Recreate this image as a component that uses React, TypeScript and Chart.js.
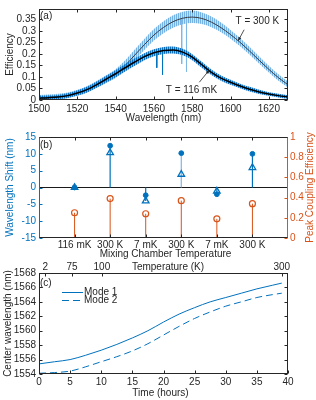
import React, { useEffect, useRef } from 'react';
import { Chart, registerables } from 'chart.js';
Chart.register(...registerables);

const FONT = "'Liberation Sans', Arial, Helvetica, sans-serif";
const AXIS = '#262626';
const BLUE = '#0072bd';
const LIGHT_BLUE = '#7db8e6';
const ORANGE = '#d95319';

// ---------- Panel (a): efficiency spectra ----------
const wavelengths = [1500, 1505, 1510, 1515, 1520, 1525, 1530, 1535, 1540, 1545, 1550, 1555, 1560, 1565, 1570, 1575, 1580, 1585, 1590, 1595, 1600, 1605, 1610, 1615, 1620, 1625, 1630];
const fit300K = [0.010, 0.012, 0.015, 0.020, 0.030, 0.045, 0.066, 0.089, 0.114, 0.150, 0.195, 0.240, 0.282, 0.315, 0.340, 0.355, 0.360, 0.354, 0.338, 0.314, 0.284, 0.250, 0.212, 0.172, 0.133, 0.097, 0.066];
const fit116mK = [0.008, 0.010, 0.013, 0.019, 0.030, 0.045, 0.066, 0.090, 0.114, 0.140, 0.165, 0.188, 0.205, 0.215, 0.217, 0.208, 0.186, 0.153, 0.120, 0.095, 0.077, 0.061, 0.047, 0.035, 0.026, 0.019, 0.013];
const meas300KHigh = [0.022, 0.024, 0.027, 0.033, 0.044, 0.060, 0.082, 0.107, 0.134, 0.172, 0.219, 0.265, 0.308, 0.342, 0.368, 0.383, 0.388, 0.380, 0.362, 0.336, 0.304, 0.269, 0.230, 0.189, 0.149, 0.112, 0.080];
const meas300KLow = [0.000, 0.001, 0.004, 0.009, 0.018, 0.032, 0.052, 0.073, 0.096, 0.130, 0.173, 0.217, 0.258, 0.290, 0.314, 0.329, 0.334, 0.330, 0.316, 0.294, 0.266, 0.233, 0.196, 0.157, 0.119, 0.084, 0.054];
const meas116mKHigh = [0.018, 0.019, 0.022, 0.029, 0.041, 0.057, 0.079, 0.104, 0.129, 0.156, 0.181, 0.203, 0.220, 0.230, 0.232, 0.222, 0.199, 0.166, 0.132, 0.106, 0.088, 0.071, 0.057, 0.044, 0.034, 0.027, 0.021];
const meas116mKLow = [0.000, 0.001, 0.004, 0.009, 0.019, 0.033, 0.053, 0.076, 0.099, 0.124, 0.149, 0.173, 0.190, 0.200, 0.202, 0.194, 0.173, 0.140, 0.108, 0.084, 0.066, 0.051, 0.037, 0.026, 0.018, 0.011, 0.005];
const spike300KWl = [1574.5, 1577];
const spike300KTop = [0.35, 0.36];
const spike300KBottom = [0.157, 0.123];
const spike116mKWl = [1561.5, 1564.5];
const spike116mKTop = [0.205, 0.21];
const spike116mKBottom = [0.14, 0.11];
const annotationsA = [
  { text: 'T = 300 K', at: [1614, 0.342], from: [1607.1, 0.305], to: [1604, 0.257] },
  { text: 'T = 116 mK', at: [1579.6, 0.041], from: [1583.7, 0.077], to: [1588.9, 0.13] },
];

// ---------- Panel (b): shifts per temperature cycle ----------
const tempCategories = ['116 mK', '300 K', '7 mK', '300 K', '7 mK', '300 K'];
const shiftDot = [0, 12.4, -2.3, 10.2, -2.0, 10.0];
const shiftTri = [0, 10.3, -4.0, 3.9, -1.1, 5.9];
const peakEff = [0.25, 0.39, 0.24, 0.37, 0.19, 0.34];
const DOT_STEM_COLORS = [BLUE, BLUE, BLUE, LIGHT_BLUE, BLUE, BLUE];

// ---------- Panel (c): centre wavelength vs time ----------
const timeHours = [0, 2.5, 5, 7.5, 10, 12.5, 15, 17.5, 20, 22.5, 25, 27.5, 30, 32.5, 35, 37.5, 39];
const mode1 = [1555.4, 1555.7, 1556.0, 1556.6, 1557.3, 1558.1, 1559.0, 1560.0, 1561.2, 1562.3, 1563.2, 1564.0, 1564.6, 1565.2, 1565.8, 1566.3, 1566.6];
const mode2 = [1554.1, 1554.2, 1554.4, 1555.0, 1555.7, 1556.4, 1557.2, 1558.2, 1559.4, 1560.6, 1561.7, 1562.6, 1563.4, 1564.0, 1564.6, 1565.0, 1565.2];
const tempTickTimes = [1.0, 5.3, 10.1, 39.0];
const tempTickLabels = ['2', '75', '100', '300'];

const pts = (xs: number[], ys: number[]) => xs.map((x, i) => ({ x, y: ys[i] }));
const fmt = (v: number) => String(Math.round(Number(v) * 1000) / 1000);

function txt(ctx: CanvasRenderingContext2D, s: string, x: number, y: number, o: any = {}) {
  ctx.save();
  ctx.translate(x, y);
  if (o.rot) ctx.rotate(o.rot);
  ctx.font = `${o.size || 10}px ${FONT}`;
  ctx.fillStyle = o.color || AXIS;
  ctx.textAlign = o.align || 'center';
  ctx.textBaseline = o.baseline || 'middle';
  ctx.fillText(s, 0, 0);
  ctx.restore();
}

function arrow(ctx: CanvasRenderingContext2D, x1: number, y1: number, x2: number, y2: number) {
  const ang = Math.atan2(y2 - y1, x2 - x1);
  ctx.save();
  ctx.strokeStyle = AXIS;
  ctx.fillStyle = AXIS;
  ctx.lineWidth = 0.8;
  ctx.beginPath();
  ctx.moveTo(x1, y1);
  ctx.lineTo(x2, y2);
  ctx.stroke();
  const h = 4;
  ctx.beginPath();
  ctx.moveTo(x2, y2);
  ctx.lineTo(x2 - h * Math.cos(ang - 0.4), y2 - h * Math.sin(ang - 0.4));
  ctx.lineTo(x2 - h * Math.cos(ang + 0.4), y2 - h * Math.sin(ang + 0.4));
  ctx.closePath();
  ctx.fill();
  ctx.restore();
}

function framePlugin(cfg: any) {
  return {
    id: 'frame',
    afterDatasetsDraw(chart: any) {
      const { ctx } = chart;
      const a = chart.chartArea;
      const L = Math.round(a.left) + 0.5, R = Math.round(a.right) - 0.5;
      const T = Math.round(a.top) + 0.5, B = Math.round(a.bottom) - 0.5;
      const len = 3;
      ctx.save();
      ctx.lineWidth = 1;
      for (const t of cfg.ticks) {
        const s = chart.scales[t.scale];
        ctx.strokeStyle = t.color || AXIS;
        for (const tk of s.ticks) {
          const p = Math.round(s.getPixelForValue(tk.value)) + 0.5;
          for (const side of t.sides) {
            ctx.beginPath();
            if (side === 'bottom') { ctx.moveTo(p, B); ctx.lineTo(p, B - len); }
            if (side === 'top') { ctx.moveTo(p, T); ctx.lineTo(p, T + len); }
            if (side === 'left') { ctx.moveTo(L, p); ctx.lineTo(L + len, p); }
            if (side === 'right') { ctx.moveTo(R, p); ctx.lineTo(R - len, p); }
            ctx.stroke();
          }
        }
      }
      const b = cfg.borders;
      const seg = (c: string, x1: number, y1: number, x2: number, y2: number) => {
        ctx.strokeStyle = c; ctx.beginPath(); ctx.moveTo(x1, y1); ctx.lineTo(x2, y2); ctx.stroke();
      };
      seg(b.top, L - 0.5, T, R + 0.5, T);
      seg(b.bottom, L - 0.5, B, R + 0.5, B);
      seg(b.left, L, T, L, B);
      seg(b.right, R, T, R, B);
      ctx.restore();
    },
  };
}

function drawPlugin(draw: (ctx: CanvasRenderingContext2D, chart: any) => void) {
  return { id: 'texts', afterDraw(chart: any) { draw(chart.ctx, chart); } };
}

function stripePattern(ctx: CanvasRenderingContext2D, c1: string, c2: string) {
  const cv = document.createElement('canvas');
  cv.width = 2; cv.height = 4;
  const g = cv.getContext('2d')!;
  g.fillStyle = c2; g.fillRect(0, 0, 2, 4);
  g.fillStyle = c1; g.fillRect(0, 0, 1, 4);
  return ctx.createPattern(cv, 'repeat');
}

const tickFont = { size: 10, family: FONT };

function baseLine(extra: any) {
  return { pointRadius: 0, borderWidth: 1, fill: false, cubicInterpolationMode: 'monotone', ...extra };
}

function spikes(xs: number[], tops: number[], bottoms: number[]) {
  return xs.flatMap((x, i) => [{ x, y: tops[i] }, { x, y: bottoms[i] }, { x, y: null }]);
}

function makeA(canvas: HTMLCanvasElement) {
  const ctx = canvas.getContext('2d')!;
  const pat300 = stripePattern(ctx, '#74b2e4', 'rgba(178,212,242,0.7)');
  const pat116 = stripePattern(ctx, '#0a6fbe', 'rgba(60,140,205,0.6)');
  return new Chart(canvas, {
    type: 'line',
    data: {
      datasets: [
        baseLine({ data: pts(wavelengths, meas300KHigh), fill: '+1', backgroundColor: pat300, borderWidth: 0, borderColor: 'rgba(0,0,0,0)', order: 10 }),
        baseLine({ data: pts(wavelengths, meas300KLow), borderWidth: 0, borderColor: 'rgba(0,0,0,0)', order: 10 }),
        { data: spikes(spike300KWl, spike300KTop, spike300KBottom), borderColor: LIGHT_BLUE, borderWidth: 1, pointRadius: 0, spanGaps: false, tension: 0, order: 9 },
        baseLine({ data: pts(wavelengths, fit300K), borderColor: '#3c3c3c', borderWidth: 1, order: 8 }),
        baseLine({ data: pts(wavelengths, meas116mKHigh), fill: '+1', backgroundColor: pat116, borderWidth: 0, borderColor: 'rgba(0,0,0,0)', order: 7 }),
        baseLine({ data: pts(wavelengths, meas116mKLow), borderWidth: 0, borderColor: 'rgba(0,0,0,0)', order: 7 }),
        { data: spikes(spike116mKWl, spike116mKTop, spike116mKBottom), borderColor: BLUE, borderWidth: 1, pointRadius: 0, spanGaps: false, tension: 0, order: 6 },
        baseLine({ data: pts(wavelengths, fit116mK), borderColor: '#000', borderWidth: 1.5, order: 5 }),
      ],
    },
    options: {
      animation: false,
      responsive: false,
      events: [],
      layout: { padding: { top: 3, right: 28, left: 0, bottom: 0 } },
      plugins: { legend: { display: false }, tooltip: { enabled: false } },
      scales: {
        x: {
          type: 'linear', min: 1500, max: 1630,
          grid: { display: false, drawTicks: false }, border: { display: false },
          ticks: { stepSize: 20, includeBounds: false, autoSkip: false, font: tickFont, color: AXIS, padding: 3, maxRotation: 0, callback: (v: any) => String(v) },
          afterFit: (s: any) => { s.height = 24; },
        },
        y: {
          type: 'linear', min: 0, max: 0.395,
          grid: { display: false, drawTicks: false }, border: { display: false },
          ticks: { stepSize: 0.05, includeBounds: false, autoSkip: false, font: tickFont, color: AXIS, padding: 3, callback: (v: any) => fmt(v) },
          afterFit: (s: any) => { s.width = 39; },
        },
      },
    } as any,
    plugins: [
      framePlugin({
        borders: { top: AXIS, bottom: AXIS, left: AXIS, right: AXIS },
        ticks: [{ scale: 'x', sides: ['bottom', 'top'] }, { scale: 'y', sides: ['left', 'right'] }],
      }),
      drawPlugin((c, chart) => {
        const a = chart.chartArea;
        const sx = chart.scales.x, sy = chart.scales.y;
        txt(c, 'Efficiency', 10, (a.top + a.bottom) / 2, { rot: -Math.PI / 2 });
        txt(c, 'Wavelength (nm)', (a.left + a.right) / 2, a.bottom + 18);
        txt(c, '(a)', a.left + 1, a.top + 7, { align: 'left' });
        for (const an of annotationsA) {
          txt(c, an.text, sx.getPixelForValue(an.at[0]), sy.getPixelForValue(an.at[1]));
          arrow(c, sx.getPixelForValue(an.from[0]), sy.getPixelForValue(an.from[1]), sx.getPixelForValue(an.to[0]), sy.getPixelForValue(an.to[1]));
        }
      }) as any,
    ],
  } as any);
}

function makeB(canvas: HTMLCanvasElement) {
  const idx = tempCategories.map((_, i) => i + 1);
  const stemTop = shiftDot.map((d, i) => (Math.abs(shiftTri[i]) > Math.abs(d) ? shiftTri[i] : d));
  const stemPts = (vals: number[], base: number) => vals.flatMap((v, i) => [{ x: i + 1, y: base }, { x: i + 1, y: v }, { x: i + 1, y: null }]);
  return new Chart(canvas, {
    type: 'scatter',
    data: {
      datasets: [
        { type: 'line', data: stemPts(peakEff, 0), yAxisID: 'y1', borderColor: ORANGE, borderWidth: 1, pointRadius: 0, spanGaps: false, tension: 0, order: 6 },
        {
          type: 'line', data: stemPts(stemTop, 0), yAxisID: 'y', borderColor: BLUE, borderWidth: 1.2, pointRadius: 0, spanGaps: false, tension: 0, order: 5,
          segment: { borderColor: (c: any) => DOT_STEM_COLORS[Math.floor(c.p0DataIndex / 3)] },
        },
        { data: pts(idx, peakEff), yAxisID: 'y1', pointStyle: 'circle', pointRadius: 3, pointBorderColor: ORANGE, pointBackgroundColor: 'rgba(255,255,255,0)', pointBorderWidth: 1.2, order: 3 },
        { data: pts(idx, shiftTri), yAxisID: 'y', pointStyle: 'triangle', pointRadius: 3.8, pointBorderColor: BLUE, pointBackgroundColor: 'rgba(255,255,255,0)', pointBorderWidth: 1.3, order: 2 },
        { data: pts(idx, shiftDot), yAxisID: 'y', pointStyle: 'circle', pointRadius: 2.4, pointBorderColor: BLUE, pointBackgroundColor: BLUE, pointBorderWidth: 1, order: 1 },
      ],
    },
    options: {
      animation: false,
      responsive: false,
      events: [],
      layout: { padding: { top: 13, right: 0, left: 0, bottom: 0 } },
      plugins: { legend: { display: false }, tooltip: { enabled: false } },
      scales: {
        x: {
          type: 'linear', min: 0, max: 7,
          grid: { display: false, drawTicks: false }, border: { display: false },
          afterBuildTicks: (s: any) => { s.ticks = idx.map((v) => ({ value: v })); },
          ticks: { font: tickFont, color: AXIS, padding: 1, maxRotation: 0, autoSkip: false, callback: (_v: any, i: number) => tempCategories[i] },
          afterFit: (s: any) => { s.height = 24; },
        },
        y: {
          type: 'linear', position: 'left', min: -15, max: 15,
          grid: { display: true, drawTicks: false, lineWidth: 1, color: (c: any) => (c.tick && c.tick.value === 0 ? '#1a1a1a' : 'rgba(0,0,0,0)') },
          border: { display: false },
          ticks: { stepSize: 5, autoSkip: false, font: tickFont, color: BLUE, padding: 3, callback: (v: any) => fmt(v) },
          afterFit: (s: any) => { s.width = 39; },
        },
        y1: {
          type: 'linear', position: 'right', min: 0, max: 1,
          grid: { display: false, drawTicks: false }, border: { display: false },
          ticks: { stepSize: 0.2, autoSkip: false, font: tickFont, color: ORANGE, padding: 2, callback: (v: any) => fmt(v) },
          afterFit: (s: any) => { s.width = 28; },
        },
      },
    } as any,
    plugins: [
      framePlugin({
        borders: { top: AXIS, bottom: AXIS, left: BLUE, right: ORANGE },
        ticks: [
          { scale: 'x', sides: ['bottom', 'top'] },
          { scale: 'y', sides: ['left'], color: BLUE },
          { scale: 'y1', sides: ['right'], color: ORANGE },
        ],
      }),
      drawPlugin((c, chart) => {
        const a = chart.chartArea;
        const cy = (a.top + a.bottom) / 2;
        txt(c, 'Wavelength Shift (nm)', 10, cy, { rot: -Math.PI / 2, color: BLUE });
        txt(c, 'Peak Coupling Efficiency', 310, cy, { rot: -Math.PI / 2, color: ORANGE });
        txt(c, 'Mixing Chamber Temperature', (a.left + a.right) / 2 + 2, a.bottom + 16);
        txt(c, '(b)', a.left + 1, a.top + 8, { align: 'left' });
      }) as any,
    ],
  } as any);
}

function makeC(canvas: HTMLCanvasElement) {
  return new Chart(canvas, {
    type: 'line',
    data: {
      datasets: [
        baseLine({ label: 'Mode 1', data: pts(timeHours, mode1), borderColor: BLUE, borderWidth: 1 }),
        baseLine({ label: 'Mode 2', data: pts(timeHours, mode2), borderColor: BLUE, borderWidth: 1, borderDash: [7, 4] }),
      ],
    },
    options: {
      animation: false,
      responsive: false,
      events: [],
      layout: { padding: { top: 0, right: 28, left: 0, bottom: 0 } },
      plugins: { legend: { display: false }, tooltip: { enabled: false } },
      scales: {
        x: {
          type: 'linear', position: 'bottom', min: 0, max: 40,
          grid: { display: false, drawTicks: false }, border: { display: false },
          ticks: { stepSize: 5, autoSkip: false, font: tickFont, color: AXIS, padding: 2, maxRotation: 0, callback: (v: any) => fmt(v) },
          afterFit: (s: any) => { s.height = 26; },
        },
        x2: {
          type: 'linear', position: 'top', min: 0, max: 40,
          grid: { display: false, drawTicks: false }, border: { display: false },
          afterBuildTicks: (s: any) => { s.ticks = tempTickTimes.map((v) => ({ value: v })); },
          ticks: { font: tickFont, color: AXIS, padding: 0, maxRotation: 0, autoSkip: false, callback: (_v: any, i: number) => tempTickLabels[i] },
          afterFit: (s: any) => { s.height = 11; },
        },
        y: {
          type: 'linear', min: 1554, max: 1568,
          grid: { display: false, drawTicks: false }, border: { display: false },
          ticks: { stepSize: 2, autoSkip: false, font: tickFont, color: AXIS, padding: 3, callback: (v: any) => String(v) },
          afterFit: (s: any) => { s.width = 39; },
        },
      },
    } as any,
    plugins: [
      framePlugin({
        borders: { top: AXIS, bottom: AXIS, left: AXIS, right: AXIS },
        ticks: [
          { scale: 'x', sides: ['bottom'] },
          { scale: 'x2', sides: ['top'] },
          { scale: 'y', sides: ['left', 'right'] },
        ],
      }),
      drawPlugin((c, chart) => {
        const a = chart.chartArea;
        txt(c, 'Center wavelength (nm)', 8.5, (a.top + a.bottom) / 2, { rot: -Math.PI / 2 });
        txt(c, 'Time (hours)', (a.left + a.right) / 2 - 3, a.bottom + 19);
        txt(c, 'Temperature (K)', a.left + 129, a.top - 5.5);
        txt(c, '(c)', a.left + 1, a.top + 10, { align: 'left' });
        chart.data.datasets.forEach((ds: any, i: number) => {
          const y = Math.round(a.top + 18.5 + i * 8.5) + 0.5;
          c.save();
          c.strokeStyle = ds.borderColor;
          c.lineWidth = ds.borderWidth;
          c.setLineDash(ds.borderDash || []);
          c.beginPath();
          c.moveTo(a.left + 23, y);
          c.lineTo(a.left + 44, y);
          c.stroke();
          c.restore();
          txt(c, ds.label, a.left + 45, y, { align: 'left', size: 10 });
        });
      }) as any,
    ],
  } as any);
}

function Panel({ top, height, make }: { top: number; height: number; make: (c: HTMLCanvasElement) => Chart }) {
  const ref = useRef<HTMLCanvasElement>(null);
  useEffect(() => {
    const chart = make(ref.current!);
    return () => chart.destroy();
  }, [make]);
  return (
    <canvas
      ref={ref}
      width={316}
      height={height}
      style={{ position: 'absolute', left: 0, top, width: 316, height, display: 'block' }}
    />
  );
}

export default function App() {
  return (
    <div style={{ position: 'fixed', left: 0, top: 0, width: 316, height: 400, background: '#fff', overflow: 'hidden' }}>
      <Panel top={0} height={124} make={makeA} />
      <Panel top={124} height={138} make={makeB} />
      <Panel top={262} height={138} make={makeC} />
    </div>
  );
}
